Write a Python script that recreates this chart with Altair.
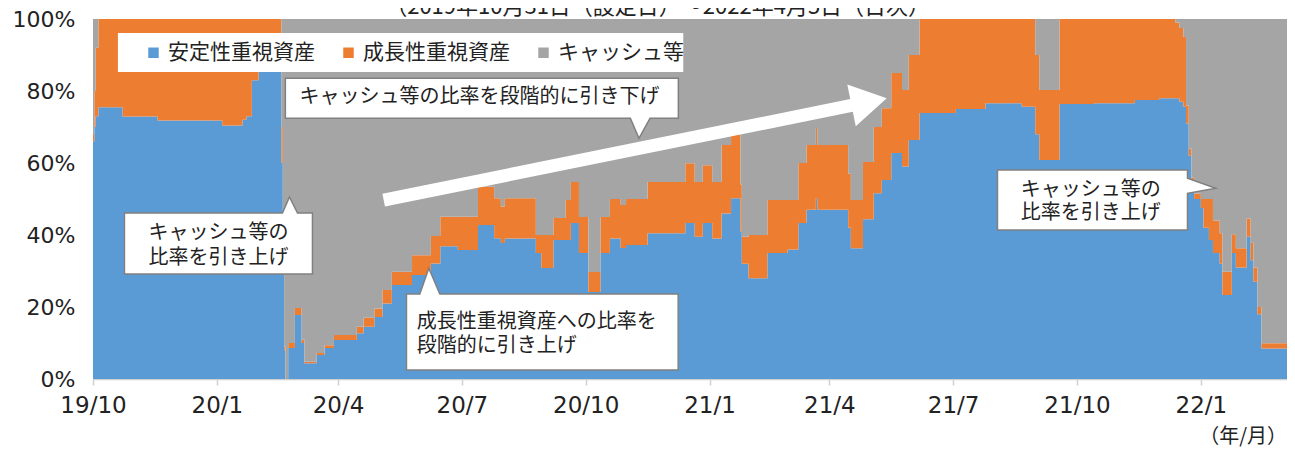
import altair as alt
import pandas as pd

# ---------------- data ----------------
dates = [
    "2019-10-31", "2019-11-01", "2019-11-02", "2019-11-04", "2019-11-22", "2019-12-18",
    "2020-02-04", "2020-02-19", "2020-02-22", "2020-02-26", "2020-03-02",
    "2020-03-19", "2020-03-20", "2020-03-21", "2020-03-22", "2020-03-24", "2020-03-29",
    "2020-04-03", "2020-04-05", "2020-04-14", "2020-04-20", "2020-04-27",
    "2020-05-14", "2020-05-19", "2020-05-27", "2020-06-02", "2020-06-09", "2020-06-24",
    "2020-07-08", "2020-07-15", "2020-07-28", "2020-08-12", "2020-08-24", "2020-08-29",
    "2020-09-01", "2020-09-24", "2020-09-28", "2020-10-07", "2020-10-16", "2020-10-20",
    "2020-10-26", "2020-11-02", "2020-11-11", "2020-11-18", "2020-11-26", "2020-11-30",
    "2020-12-16", "2021-01-13", "2021-01-20", "2021-01-26", "2021-02-02", "2021-02-09",
    "2021-02-16", "2021-02-23", "2021-02-24", "2021-03-01", "2021-03-15", "2021-03-30",
    "2021-04-07", "2021-04-13", "2021-04-20", "2021-04-21", "2021-05-14", "2021-05-16",
    "2021-05-25", "2021-06-02", "2021-06-08", "2021-06-15", "2021-06-23", "2021-06-28",
    "2021-07-06", "2021-08-02", "2021-08-24", "2021-09-20", "2021-09-30", "2021-10-03",
    "2021-10-18", "2021-11-13", "2021-12-13", "2021-12-31", "2022-01-12", "2022-01-15",
    "2022-01-18", "2022-01-20", "2022-01-22", "2022-01-24", "2022-01-26", "2022-01-31",
    "2022-02-02", "2022-02-06", "2022-02-09", "2022-02-14", "2022-02-16", "2022-02-23",
    "2022-02-26", "2022-03-06", "2022-03-09", "2022-03-11", "2022-03-14", "2022-03-17",
    "2022-04-05",
]
stable = [
    66, 70, 73, 75.5, 72.9, 71.8,
    70.4, 72, 73, 83, 88,
    60, 30, 8, 0, 8.6, 17.8,
    10, 4.4, 6.7, 8.6, 10.8,
    12.7, 14.5, 17.2, 21, 26.1, 28.9,
    32.1, 36.9, 35.8, 42.8, 39.1, 37.8,
    39, 35, 30.8, 38.6, 38.6, 43.3,
    35, 24.2, 35, 39, 36.4, 37.2,
    40.5, 43.3, 39.5, 43.3, 39, 46,
    50.2, 41, 32, 28, 35, 36,
    43.3, 47, 50.2, 47, 42, 36.3,
    44.4, 51.6, 55.3, 62.8, 59, 66.4,
    73.9, 75, 76.6, 75.6, 68, 60.8,
    76.4, 76.6, 77.5, 78, 78, 77,
    75.6, 71, 62, 54, 50, 47.5,
    42, 38.6, 35, 32, 23.3, 35,
    31, 39.5, 33, 27, 18, 8.5,
    8.5,
]
growth = [
    2, 10, 19, 24.5, 27.1, 28.2,
    29.6, 28, 27, 17, 12,
    10, 3, 1, 0, 1.4, 1.9,
    1, 0.4, 0.5, 0.8, 1.4,
    1.8, 2.5, 2.4, 3.7, 3.7, 5.5,
    7.6, 8.2, 9.3, 10.6, 11.1, 10.1,
    11.2, 5, 9.2, 6.1, 11.1, 11.4,
    10, 5.5, 10, 11, 11.9, 12.8,
    14.2, 16.6, 15.2, 16.1, 15.7, 19,
    17.6, 13, 7.5, 12, 14.7, 13.7,
    16.7, 18, 19.5, 18, 15, 13.4,
    15.9, 18.4, 19.9, 22.2, 21.3, 23.6,
    26.1, 25, 23.4, 24.4, 22, 19.5,
    23.6, 23.4, 22.5, 22, 21, 20.5,
    19.4, 5, 2, 2, 1.5, 2.5,
    8, 11.4, 9, 8.5, 6.5, 5.2,
    5.3, 5.1, 5, 4, 2, 1.4,
    1.4,
]
cash = [
    32, 20, 8, 0, 0, 0,
    0, 0, 0, 0, 0,
    30, 67, 91, 100, 90, 80.3,
    89, 95.2, 92.8, 90.6, 87.8,
    85.5, 83, 80.4, 75.3, 70.2, 65.6,
    60.3, 54.9, 54.9, 46.6, 49.8, 52.1,
    49.8, 60, 60, 55.3, 50.3, 45.3,
    55, 70.3, 55, 50, 51.7, 50,
    45.3, 40.1, 45.3, 40.6, 45.3, 35,
    32.2, 46, 60.5, 60, 50.3, 50.3,
    40, 35, 30.3, 35, 43, 50.3,
    39.7, 30, 24.8, 15, 19.7, 10,
    0, 0, 0, 0, 10, 19.7,
    0, 0, 0, 0, 1, 2.5,
    5, 24, 36, 44, 48.5, 50,
    50, 50, 56, 59.5, 70.2, 59.8,
    63.7, 55.4, 62, 69, 80, 90.1,
    90.1,
]
assert len(dates) == len(stable) == len(growth) == len(cash)

series_names = ["安定性重視資産", "成長性重視資産", "キャッシュ等"]
series_colors = ["#5B9BD5", "#ED7D31", "#A5A5A5"]

x_start, x_end = "2019-10-31", "2022-04-05"
tick_dates = ["2019-10-31", "2020-01-31", "2020-04-30", "2020-07-31", "2020-10-31",
              "2021-01-31", "2021-04-30", "2021-07-31", "2021-10-31", "2022-01-31"]
y_ticks = [0, 20, 40, 60, 80, 100]

title_text = "（2019年10月31日（設定日）～2022年4月5日（日次）"
unit_text = "（年/月）"

# annotation texts and anchors (in data units: date, percent)
center_texts = ["キャッシュ等の", "比率を引き上げ", "キャッシュ等の比率を段階的に引き下げ",
                "キャッシュ等の", "比率を引き上げ"]
center_text_t = ["2020-02-01 05:00", "2020-02-01 05:00", "2020-08-13 01:00",
                 "2021-11-10 06:00", "2021-11-10 06:00"]
center_text_v = [40.56, 33.61, 78.47, 52.5, 46.03]

left_texts = ["成長性重視資産への比率を", "段階的に引き上げ"]
left_text_t = ["2020-06-27 10:00", "2020-06-27 10:00"]
left_text_v = [15.97, 9.17]

# callout shapes (unit = 100 px, relative to anchor)
callout_t = ["2020-02-01 05:00", "2020-08-14 21:00", "2020-09-28 19:00", "2021-11-11 12:00"]
callout_v = [37.64, 77.97, 13.06, 49.72]
callout_paths = [
    "M -0.94 -0.305 L 0.64 -0.305 L 0.71 -0.465 L 0.79 -0.305 L 0.94 -0.305 L 0.94 0.305 L -0.94 0.305 Z",
    "M -1.965 -0.2 L 1.965 -0.2 L 1.965 0.2 L 1.682 0.2 L 1.571 0.4 L 1.485 0.2 L -1.965 0.2 Z",
    "M -1.3585 -0.38 L -1.225 -0.38 L -1.135 -0.637 L -1.025 -0.38 L 1.3585 -0.38 L 1.3585 0.38 L -1.3585 0.38 Z",
    "M -0.95 -0.3 L 0.95 -0.3 L 0.95 -0.217 L 1.233 -0.117 L 0.95 -0.067 L 0.95 0.3 L -0.95 0.3 Z",
]
arrow_t, arrow_v = "2020-12-06 19:00", 63.83
arrow_path = "M -2.566 -0.065 L 2.207 -0.065 L 2.207 -0.213 L 2.566 0 L 2.207 0.213 L 2.207 0.065 L -2.566 0.065 Z"

legend_box_t = ["2019-11-18 12:00", "2021-01-11 12:00"]
legend_box_v = [85.28, 96.11]


def ms(s):
    return int((pd.Timestamp(s) - pd.Timestamp("1970-01-01")) // pd.Timedelta(milliseconds=1))


# ---------------- tables ----------------
rows = []
for i, d in enumerate(dates):
    for k, vals in enumerate([stable, growth, cash]):
        rows.append({"t": ms(d), "series": series_names[k], "order": k, "value": vals[i]})
df = pd.DataFrame(rows)

JP = "Noto Sans CJK JP"
TXT = "#222222"

tick_ms = [ms(d) for d in tick_dates]

xscale = alt.Scale(type="utc", domain=[ms(x_start), ms(x_end)], nice=False)
yscale = alt.Scale(domain=[0, 100], nice=False)

xaxis = alt.Axis(values=tick_ms,
                 labelExpr="utcFormat(datum.value, '%y') + '/' + (utcmonth(datum.value) + 1)",
                 labelFont="DejaVu Sans", labelFontSize=23, labelColor=TXT,
                 labelFlush=False, labelOverlap=False, labelBound=False,
                 labelPadding=9, tickSize=6, tickColor="#d0d0d0", tickWidth=1.5,
                 domainColor="#d0d0d0", domainWidth=1.5, grid=False)
yaxis = alt.Axis(values=y_ticks, labelExpr="datum.value + '%'",
                 labelFont="DejaVu Sans", labelFontSize=22, labelColor=TXT,
                 labelPadding=18, ticks=False, domain=False, grid=False,
                 labelFlush=False, labelBound=False)


def X(field="t"):
    return alt.X(f"{field}:T", scale=xscale, title=None)


def Y(field="value"):
    return alt.Y(f"{field}:Q", scale=yscale, title=None)


areas = alt.Chart(df).mark_area(interpolate="step-after").encode(
    x=alt.X("t:T", scale=xscale, axis=xaxis, title=None),
    y=alt.Y("value:Q", stack="zero", scale=yscale, axis=yaxis, title=None),
    color=alt.Color("series:N", title=None,
                    scale=alt.Scale(domain=series_names, range=series_colors),
                    legend=alt.Legend(orient="none", legendX=50, legendY=23,
                                      direction="horizontal", symbolType="square",
                                      symbolSize=110, symbolStrokeWidth=0, symbolOpacity=1,
                                      labelFont=JP, labelFontSize=21, labelColor=TXT,
                                      labelOffset=4, columnPadding=23, padding=0,
                                      labelLimit=400)),
    order=alt.Order("order:Q"),
)

legend_bg = alt.Chart(pd.DataFrame({
    "t": [ms(legend_box_t[0])], "t2": [ms(legend_box_t[1])],
    "value": [legend_box_v[0]], "value2": [legend_box_v[1]],
})).mark_rect(fill="white").encode(
    x=X(), x2="t2:T", y=Y(), y2="value2:Q"
)

arrow = alt.Chart(pd.DataFrame({"t": [ms(arrow_t)], "value": [arrow_v]})).mark_point(
    shape=arrow_path, size=40000, angle=348.57, filled=True, fill="white",
    strokeWidth=0, opacity=1
).encode(x=X(), y=Y())

callouts = []
for ct, cv, cp in zip(callout_t, callout_v, callout_paths):
    callouts.append(
        alt.Chart(pd.DataFrame({"t": [ms(ct)], "value": [cv]})).mark_point(
            shape=cp, size=40000, filled=True, fill="white", stroke="#808080",
            strokeWidth=1.5, opacity=1
        ).encode(x=X(), y=Y())
    )

txt_c = alt.Chart(pd.DataFrame({
    "t": [ms(s) for s in center_text_t], "value": center_text_v, "label": center_texts
})).mark_text(font=JP, fontSize=20, color=TXT, align="center", baseline="middle").encode(
    x=X(), y=Y(), text="label:N"
)

txt_l = alt.Chart(pd.DataFrame({
    "t": [ms(s) for s in left_text_t], "value": left_text_v, "label": left_texts
})).mark_text(font=JP, fontSize=20, color=TXT, align="left", baseline="middle").encode(
    x=X(), y=Y(), text="label:N"
)

title_layer = alt.Chart(pd.DataFrame({
    "t": [ms("2020-12-23 11:00")], "value": [103.3], "label": [title_text]
})).mark_text(font=JP, fontSize=22, color=TXT, align="center", baseline="middle").encode(
    x=X(), y=Y(), text="label:N"
)

unit_layer = alt.Chart(pd.DataFrame({
    "t": [ms(x_end)], "value": [-16.0], "label": [unit_text]
})).mark_text(font=JP, fontSize=20, color=TXT, align="right", baseline="middle").encode(
    x=X(), y=Y(), text="label:N"
)

chart = alt.layer(
    areas, legend_bg, arrow, *callouts, txt_c, txt_l, title_layer, unit_layer
).properties(
    width=1194, height=360,
    autosize=alt.AutoSizeParams(type="none"),
    padding={"left": 85, "top": 11, "right": 0, "bottom": 69},
    background="white",
).configure_view(stroke="#d9d9d9", strokeWidth=1)

chart.save("out.html", embed_options={"renderer": "svg", "actions": False})
